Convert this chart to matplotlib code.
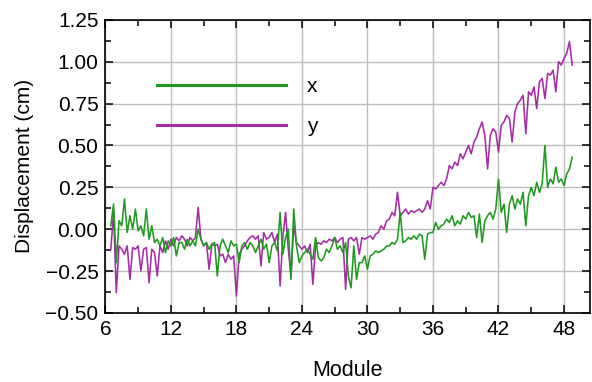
import numpy as np
import matplotlib
matplotlib.use("Agg")
import matplotlib.pyplot as plt
from matplotlib.ticker import MultipleLocator

plt.rcParams["font.family"] = ["Liberation Sans", "DejaVu Sans"]

# displacement per sample, 4 samples per module (module 6 starts at 6.5)
disp_x = [
    0.02, 0.15,                     # 6
    -0.20, 0.05, 0.02, 0.18,        # 7
    -0.02, 0.08, 0.00, 0.12,        # 8
    -0.01, 0.02, -0.04, 0.12,       # 9
    -0.06, 0.02, -0.08, -0.06,      # 10
    -0.10, -0.05, -0.14, -0.07,     # 11
    -0.10, -0.05, -0.16, -0.08,     # 12
    -0.08, -0.12, -0.06, -0.10,     # 13
    -0.07, -0.10, 0.00, -0.06,      # 14
    -0.10, -0.08, -0.12, -0.09,     # 15
    -0.08, -0.28, -0.10, -0.06,     # 16
    -0.10, -0.14, -0.07, -0.10,     # 17
    -0.09, -0.20, -0.10, -0.08,     # 18
    -0.12, -0.08, -0.10, -0.14,     # 19
    -0.10, -0.06, -0.12, -0.09,     # 20
    -0.20, -0.10, -0.08, -0.13,     # 21
    0.10, -0.15, -0.05, 0.00,       # 22
    -0.30, 0.12, -0.10, -0.20,      # 23
    -0.16, -0.14, -0.12, -0.15,     # 24
    -0.18, -0.05, -0.17, -0.19,     # 25
    -0.17, -0.12, -0.14, -0.10,     # 26
    -0.05, -0.12, -0.10, -0.14,     # 27
    -0.08, -0.28, -0.35, -0.10,     # 28
    -0.30, -0.20, -0.20, -0.16,     # 29
    -0.24, -0.16, -0.15, -0.13,     # 30
    -0.14, -0.13, -0.12, -0.10,     # 31
    -0.10, -0.08, -0.09, -0.06,     # 32
    0.10, -0.08, -0.07, -0.05,      # 33
    -0.06, -0.04, -0.06, -0.03,     # 34
    -0.04, -0.18, -0.03, -0.02,     # 35
    -0.02, 0.04, 0.00, 0.02,        # 36
    0.03, 0.06, 0.04, 0.08,         # 37
    0.02, 0.05, 0.03, 0.08,         # 38
    0.06, 0.10, 0.07, 0.08,         # 39
    -0.05, 0.09, -0.08, 0.05,       # 40
    0.08, 0.10, 0.06, 0.12,         # 41
    0.30, 0.10, 0.15, -0.02,        # 42
    0.15, 0.20, 0.12, 0.18,         # 43
    0.15, 0.22, 0.02, 0.20,         # 44
    0.25, 0.20, 0.28, 0.22,         # 45
    0.27, 0.50, 0.25, 0.30,         # 46
    0.27, 0.37, 0.28, 0.30,         # 47
    0.26, 0.33, 0.36, 0.43,         # 48
]

disp_y = [
    -0.12, 0.10,                    # 6
    -0.38, -0.10, -0.12, -0.15,     # 7
    -0.10, -0.30, -0.11, -0.12,     # 8
    -0.10, -0.25, -0.12, -0.11,     # 9
    -0.32, -0.12, -0.14, -0.28,     # 10
    -0.10, -0.14, -0.07, -0.12,     # 11
    -0.06, -0.10, -0.05, -0.07,     # 12
    -0.04, -0.06, -0.10, -0.05,     # 13
    -0.07, -0.05, 0.13, -0.06,      # 14
    -0.10, -0.08, -0.24, -0.09,     # 15
    -0.10, -0.09, -0.16, -0.15,     # 16
    -0.20, -0.15, -0.18, -0.16,     # 17
    -0.40, -0.15, -0.12, -0.10,     # 18
    -0.07, -0.05, -0.04, -0.06,     # 19
    -0.04, -0.22, -0.02, -0.06,     # 20
    -0.05, -0.02, -0.08, -0.03,     # 21
    -0.34, -0.05, 0.10, -0.12,      # 22
    -0.28, 0.02, -0.08, -0.10,      # 23
    -0.12, -0.10, -0.14, -0.09,     # 24
    -0.33, -0.10, -0.08, -0.09,     # 25
    -0.07, -0.08, -0.06, -0.07,     # 26
    -0.05, -0.08, -0.06, -0.05,     # 27
    -0.36, -0.06, -0.05, -0.07,     # 28
    -0.05, -0.15, -0.05, -0.06,     # 29
    -0.05, -0.04, -0.06, -0.03,     # 30
    -0.02, 0.02, 0.00, 0.05,        # 31
    0.06, 0.10, 0.08, 0.22,         # 32
    0.08, 0.10, 0.12, 0.09,         # 33
    0.11, 0.10, 0.11, 0.12,         # 34
    0.10, 0.12, 0.17, 0.12,         # 35
    0.25, 0.24, 0.26, 0.28,         # 36
    0.26, 0.30, 0.38, 0.36,         # 37
    0.40, 0.38, 0.45, 0.42,         # 38
    0.46, 0.50, 0.45, 0.52,         # 39
    0.55, 0.60, 0.64, 0.56,         # 40
    0.36, 0.56, 0.60, 0.58,         # 41
    0.46, 0.62, 0.64, 0.68,         # 42
    0.66, 0.52, 0.70, 0.75,         # 43
    0.77, 0.80, 0.57, 0.82,         # 44
    0.80, 0.85, 0.72, 0.88,         # 45
    0.90, 0.78, 0.93, 0.92,         # 46
    0.95, 0.82, 1.00, 0.98,         # 47
    1.02, 1.05, 1.12, 0.98,         # 48
]

module = 6.5 + 0.25 * np.arange(len(disp_x))

green = "#1f9a1f"
purple = "#a62ca6"

fig = plt.figure(figsize=(5.92, 3.82), dpi=100)
ax = fig.add_axes([0.178, 0.181, 0.819, 0.767])

ax.plot(module, disp_y, color=purple, lw=1.15, label="y", zorder=3)
ax.plot(module, disp_x, color=green, lw=1.15, label="x", zorder=3)

ax.set_xlim(6, 50.4)
ax.set_ylim(-0.5, 1.25)
ax.xaxis.set_major_locator(MultipleLocator(6))
ax.xaxis.set_minor_locator(MultipleLocator(3))
ax.yaxis.set_major_locator(MultipleLocator(0.25))
ax.yaxis.set_minor_locator(MultipleLocator(0.125))
ax.yaxis.set_major_formatter(plt.FuncFormatter(lambda v, p: f"{v:.2f}".replace("-", "\u2212")))

ax.grid(True, which="major", color="#bdbdbd", lw=1.0)
ax.tick_params(which="both", direction="in", top=True, right=True, labelsize=15, pad=5)
ax.tick_params(which="major", length=6, width=1.1)
ax.tick_params(which="minor", length=4, width=1.1)
for s in ax.spines.values():
    s.set_linewidth(1.2)

ax.set_xlabel("Module", fontsize=15.5, labelpad=15)
ax.set_ylabel("Displacement (cm)", fontsize=15, labelpad=8)

h, l = ax.get_legend_handles_labels()
leg = ax.legend(h[::-1], l[::-1], loc="upper left", bbox_to_anchor=(0.107, 0.805),
                frameon=False, fontsize=15, handlelength=6.2, handletextpad=1.0,
                labelspacing=1.0, borderpad=0, borderaxespad=0)
for ln in leg.get_lines():
    ln.set_linewidth(2.2)

plt.savefig("out.png", dpi=100)
